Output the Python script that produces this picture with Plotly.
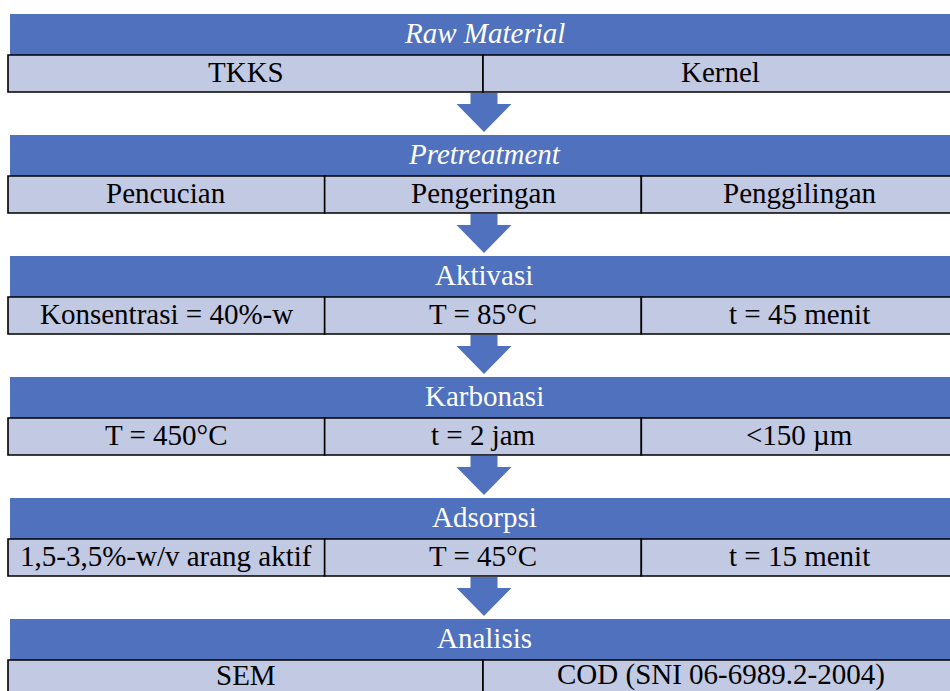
import plotly.graph_objects as go

# ---- content ----
stages = ["Raw Material", "Pretreatment", "Aktivasi", "Karbonasi", "Adsorpsi", "Analisis"]
stage_italic = [True, True, False, False, False, False]
items = [
    ["TKKS", "Kernel"],
    ["Pencucian", "Pengeringan", "Penggilingan"],
    ["Konsentrasi = 40%-w", "T = 85°C", "t = 45 menit"],
    ["T = 450°C", "t = 2 jam", "<150 µm"],
    ["1,5-3,5%-w/v arang aktif", "T = 45°C", "t = 15 menit"],
    ["SEM", "COD (SNI 06-6989.2-2004)"],
]

# ---- layout constants (canvas units) ----
W, H = 950, 691
X0, X1 = 8, 958
HX0 = 10
TOP0 = 14
PERIOD = 121
HDR_H = 41
ROW_H = 37
CX = 484
SHAFT_W = 27
HEAD_W = 55
SHAFT_L = 12
ARROW_L = 40

BLUE = "#4F71BE"
LIGHT = "#C2C9E3"
FONT = "Liberation Serif"
FS = 29

shapes = []
annotations = []

for i, (stage, row) in enumerate(zip(stages, items)):
    top = TOP0 + PERIOD * i
    hb = top + HDR_H
    rb = hb + ROW_H
    last = i == len(stages) - 1
    # header
    shapes.append(dict(type="rect", xref="x", yref="y", x0=HX0, x1=X1, y0=top, y1=hb,
                       fillcolor=BLUE, line=dict(width=0), layer="below"))
    txt = f"<i>{stage}</i>" if stage_italic[i] else stage
    annotations.append(dict(x=CX, y=(top + hb) / 2 - 1.5, xref="x", yref="y", text=txt,
                            showarrow=False, xanchor="center", yanchor="middle",
                            font=dict(family=FONT, size=FS, color="white")))
    # row cells
    n = len(row)
    cw = (X1 - X0) / n
    for j, label in enumerate(row):
        cx0 = X0 + cw * j
        cx1 = cx0 + cw
        shapes.append(dict(type="rect", xref="x", yref="y", x0=cx0, x1=cx1, y0=hb, y1=rb,
                           fillcolor=LIGHT, line=dict(color="black", width=1.6)))
        annotations.append(dict(x=(cx0 + cx1) / 2, y=(hb + rb) / 2 - (4 if last else 1.5),
                                xref="x", yref="y", borderpad=0,
                                text=label, showarrow=False, xanchor="center", yanchor="middle",
                                font=dict(family=FONT, size=FS, color="black")))
    # arrow to next stage
    if not last:
        y0 = rb + 1
        ys = rb + SHAFT_L
        yt = rb + ARROW_L
        path = (f"M {CX - SHAFT_W/2} {y0} L {CX + SHAFT_W/2} {y0} L {CX + SHAFT_W/2} {ys} "
                f"L {CX + HEAD_W/2} {ys} L {CX} {yt} L {CX - HEAD_W/2} {ys} "
                f"L {CX - SHAFT_W/2} {ys} Z")
        shapes.append(dict(type="path", xref="x", yref="y", path=path,
                           fillcolor=BLUE, line=dict(width=0)))

fig = go.Figure()
fig.add_trace(go.Scatter(x=[0, W], y=[0, H], mode="markers", marker=dict(opacity=0),
                         hoverinfo="skip", showlegend=False))
fig.update_layout(
    width=W, height=H,
    margin=dict(l=0, r=0, t=0, b=0),
    paper_bgcolor="white", plot_bgcolor="white",
    xaxis=dict(range=[0, W], visible=False, fixedrange=True),
    yaxis=dict(range=[H, 0], visible=False, fixedrange=True),
    shapes=shapes, annotations=annotations, showlegend=False,
)
fig.write_html(
    "out.html",
    config={"displayModeBar": False},
    post_script="document.body.style.margin='0';document.body.style.overflow='hidden';",
)
